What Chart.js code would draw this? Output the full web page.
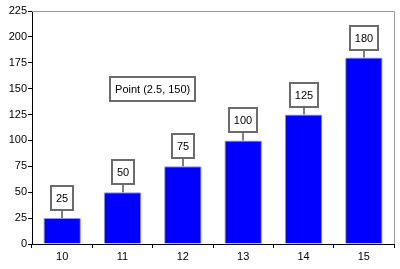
<!DOCTYPE html>
<html>
<head>
<meta charset="utf-8">
<script src="https://cdn.jsdelivr.net/npm/chart.js@4"></script>
<style>
  html, body { margin: 0; padding: 0; background: #fff; }
  #wrap { width: 400px; height: 269px; }
</style>
</head>
<body>
<div id="wrap"><canvas id="grafico"></canvas></div>
<script>
// datos del grafico
var categorias = ['10', '11', '12', '13', '14', '15'];
var valores = [25, 50, 75, 100, 125, 180];
var etiquetasValor = ['25', '50', '75', '100', '125', '180'];
var textoPunto = 'Point (2.5, 150)';
var posPunto = [1.5, 150];

var fuente = '11px "Liberation Sans", Arial, sans-serif';

function cajaTexto(ctx, texto, cx, cy) {
    ctx.font = fuente;
    var w = Math.round(ctx.measureText(texto).width) + 10;
    var h = 24;
    var x = Math.round(cx - w / 2), y = Math.round(cy - h / 2);
    ctx.fillStyle = '#fff';
    ctx.fillRect(x, y, w, h);
    ctx.strokeStyle = '#6b6b6b';
    ctx.lineWidth = 2;
    ctx.strokeRect(x, y, w, h);
    ctx.fillStyle = '#000';
    ctx.textAlign = 'center';
    ctx.textBaseline = 'middle';
    ctx.fillText(texto, cx, cy + 1);
}

// etiquetas sobre las barras, marco y anotacion
var pluginEtiquetas = {
    id: 'etiquetas',
    beforeDatasetsDraw: function (chart) {
        var ctx = chart.ctx, a = chart.chartArea;
        ctx.save();
        ctx.strokeStyle = '#9a9a9a';
        ctx.lineWidth = 1;
        ctx.beginPath();
        ctx.moveTo(a.left, a.top + 0.5);
        ctx.lineTo(a.right + 0.5, a.top + 0.5);
        ctx.lineTo(a.right + 0.5, a.bottom);
        ctx.stroke();
        ctx.restore();
    },
    afterDatasetsDraw: function (chart) {
        var ctx = chart.ctx;
        var meta = chart.getDatasetMeta(0);
        ctx.save();
        meta.data.forEach(function (bar, i) {
            var cx = Math.round(bar.x);
            var top = bar.y;
            var cy = top - 8 - 12;
            ctx.strokeStyle = '#555';
            ctx.lineWidth = 1.5;
            ctx.beginPath();
            ctx.moveTo(cx, top);
            ctx.lineTo(cx, top - 8);
            ctx.stroke();
            cajaTexto(ctx, etiquetasValor[i], cx, cy);
        });
        var px = chart.scales.x.getPixelForValue(posPunto[0]);
        var py = chart.scales.y.getPixelForValue(posPunto[1]);
        cajaTexto(ctx, textoPunto, px, py);
        ctx.restore();
    }
};

var config = {
    type: 'bar',
    data: {
        labels: categorias,
        datasets: [{
            data: valores,
            backgroundColor: '#0000ff',
            borderColor: '#8f8fff',
            borderWidth: 1,
            borderSkipped: 'bottom',
            borderRadius: 1,
            categoryPercentage: 1,
            barPercentage: 0.62
        }]
    },
    options: {
        responsive: true,
        maintainAspectRatio: false,
        animation: false,
        layout: { padding: { left: 0, right: 6, top: 11, bottom: 0 } },
        plugins: {
            legend: { display: false },
            tooltip: { enabled: false }
        },
        scales: {
            x: {
                grid: { display: true, drawOnChartArea: false, tickLength: 4, color: '#000' },
                border: { color: '#000', width: 1 },
                ticks: { color: '#000', font: { family: '"Liberation Sans", Arial', size: 11 }, padding: 2 },
                afterFit: function (s) { s.height = 25; }
            },
            y: {
                min: 0,
                max: 225,
                grid: { display: true, drawOnChartArea: false, tickLength: 4, color: '#000' },
                border: { color: '#000', width: 1 },
                ticks: { stepSize: 25, color: '#000', font: { family: '"Liberation Sans", Arial', size: 11 }, padding: 1 },
                afterFit: function (s) { s.width = 32; }
            }
        }
    },
    plugins: [pluginEtiquetas]
};

var ctxGrafico = document.getElementById('grafico').getContext('2d');
var grafico = new Chart(ctxGrafico, config);
</script>
</body>
</html>
